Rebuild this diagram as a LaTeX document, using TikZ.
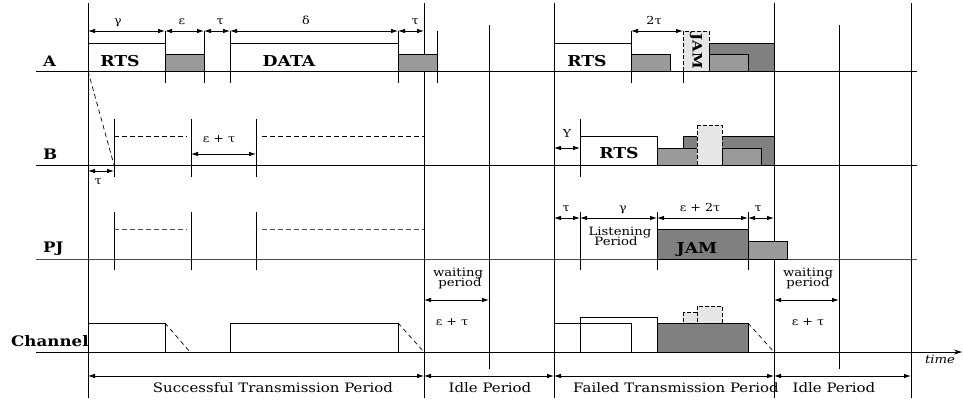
\documentclass[tikz,border=0pt]{standalone}
\usepackage{fontspec}
\setmainfont{DejaVu Serif}[FakeStretch=1.15]
\usetikzlibrary{arrows.meta}
\definecolor{midgray}{HTML}{9A9A9A}
\definecolor{darkgray2}{HTML}{808080}
\definecolor{lightgray2}{HTML}{E6E6E6}
\begin{document}
\begin{tikzpicture}[x=1pt,y=-1pt,
  ln/.style={line width=0.8pt},
  dim/.style={line width=0.8pt,{Latex[length=7pt,width=4.5pt]}-{Latex[length=7pt,width=4.5pt]}},
  dsh/.style={line width=0.7pt,dash pattern=on 4.5pt off 3.5pt},
  midbox/.style={draw,line width=0.8pt,fill=midgray},
  darkbox/.style={draw,line width=0.8pt,fill=darkgray2},
  lightbox/.style={draw,line width=0.8pt,fill=lightgray2,dash pattern=on 4pt off 2pt},
  wbox/.style={draw,line width=0.8pt},
  rowlab/.style={font=\fontsize{14.5}{14.5}\selectfont\bfseries,anchor=base west,inner sep=0pt},
  boxlab/.style={font=\fontsize{15}{15}\selectfont\bfseries,anchor=base,inner sep=0pt},
  glab/.style={font=\fontsize{11}{11}\selectfont,anchor=base,inner sep=0pt},
  wlab/.style={font=\fontsize{11.5}{11.5}\selectfont,anchor=base,inner sep=0pt},
  plab/.style={font=\fontsize{13}{13}\selectfont,anchor=base,inner sep=0pt},
]
\useasboundingbox (0,0) rectangle (963,402);

% baselines
\draw[ln] (36,71) -- (917,71);
\draw[ln] (36,165) -- (917,165);
\draw[ln,black!70] (36,259) -- (917,259);
\draw[ln,-{Stealth[length=8pt,width=5pt]}] (36,352) -- (962,352);

% full verticals
\foreach \x in {88,424,554,774,911} \draw[ln] (\x,3) -- (\x,398);
\foreach \x in {489,839} \draw[ln] (\x,25) -- (\x,369);
% A ticks
\foreach \x in {165,204,230,398,437,631,683} \draw[ln] (\x,31) -- (\x,83);
% B ticks
\foreach \x in {114,191,256,580} \draw[ln] (\x,119) -- (\x,177);
% PJ ticks
\foreach \x in {114,191,256,580,657,748} \draw[ln] (\x,212) -- (\x,270);

% ---- A row ----
\draw[wbox] (88,43) rectangle (165,71);
\draw[midbox] (165,54) rectangle (204,71);
\draw[wbox] (230,43) rectangle (398,71);
\draw[midbox] (398,54) rectangle (437,71);
\draw[wbox] (554,43) rectangle (631,71);
\draw[midbox] (631,54) rectangle (670,71);
\draw[lightbox] (683,31) rectangle (709,71);
\draw[darkbox] (709,43) rectangle (774,71);
\draw[midbox] (709,54) rectangle (748,71);

\node[rowlab] (lA) at (43,66) {A};
\node[boxlab] (rts1) at (120,66) {RTS};
\node[boxlab] (data) at (289,66) {DATA};
\node[boxlab] (rts2) at (587,66) {RTS};
\node[font=\fontsize{13}{13}\selectfont\bfseries,rotate=-90,inner sep=0pt] (jamA) at (696,51) {JAM};

\draw[dim] (88,31) -- (165,31);
\draw[dim] (165,31) -- (204,31);
\draw[dim] (204,31) -- (230,31);
\draw[dim] (230,31) -- (398,31);
\draw[dim] (398,31) -- (424,31);
\draw[dim] (631,31) -- (683,31);
\node[glab] (g1) at (118,24) {γ};
\node[glab] (e1) at (182,24) {ε};
\node[glab] (t1) at (220,24) {τ};
\node[glab] (d1) at (306,24) {δ};
\node[glab] (t2) at (415,24) {τ};
\node[glab] (tt) at (654,24) {2τ};

% ---- B row ----
\draw[dsh] (88,71) -- (114,165);
\draw[dsh] (114,136) -- (187,136);
\draw[dsh] (262,136) -- (424,136);
\draw[wbox] (580,136) rectangle (657,165);
\draw[darkbox] (683,136) rectangle (774,165);
\draw[midbox] (657,148) rectangle (697,165);
\draw[lightbox] (697,125) rectangle (722,165);
\draw[midbox] (722,148) rectangle (761,165);

\node[rowlab] (lB) at (43,159) {B};
\node[boxlab] (rts3) at (619,158) {RTS};

\draw[dim] (191,154) -- (256,154);
\node[glab] (et1) at (219,142) {ε + τ};
\draw[dim] (88,171) -- (114,171);
\node[glab] (t3) at (98,184) {τ};
\draw[dim] (554,148) -- (580,148);
\node[glab] (Y) at (567,137) {Y};

% ---- PJ row ----
\draw[dsh,black!70] (114,229) -- (187,229);
\draw[dsh,black!70] (262,229) -- (424,229);
\draw[darkbox] (657,229) rectangle (748,259);
\draw[midbox] (748,241) rectangle (787,259);
\node[rowlab] (lPJ) at (43,252) {PJ};
\node[boxlab] (jamPJ) at (697,253) {JAM};

\draw[dim] (554,218) -- (580,218);
\draw[dim] (580,218) -- (657,218);
\draw[dim] (657,218) -- (748,218);
\draw[dim] (748,218) -- (774,218);
\node[glab] (t4) at (566,211) {τ};
\node[glab] (g2) at (623,211) {γ};
\node[glab] (e2t) at (700,211) {ε + 2τ};
\node[glab] (t5) at (758,211) {τ};
\node[wlab] (listen) at (620,235) {Listening};
\node[wlab] (period) at (616,245) {Period};

% ---- Channel row ----
\draw[wbox] (88,323) rectangle (165,352);
\draw[dsh] (165,323) -- (190,352);
\draw[wbox] (230,323) rectangle (398,352);
\draw[dsh] (398,323) -- (424,352);
\draw[wbox] (580,317) rectangle (657,352);
\draw[wbox] (554,323) rectangle (631,352);
\draw[darkbox] (657,323) rectangle (748,352);
\draw[lightbox] (683,312) rectangle (697,323);
\draw[lightbox] (697,306) rectangle (722,323);
\draw[dsh] (748,323) -- (774,352);
\node[rowlab] (lCh) at (11,346) {Channel};

\node[wlab] (wait1) at (458,276) {waiting};
\node[wlab] (per1) at (460,286) {period};
\draw[dim] (424,300) -- (489,300);
\node[glab] (et2) at (452,325) {ε + τ};
\node[wlab] (wait2) at (808,276) {waiting};
\node[wlab] (per2) at (808,286) {period};
\draw[dim] (774,300) -- (839,300);
\node[glab] (et3) at (808,325) {ε + τ};
\node[wlab,font=\fontsize{11.5}{11.5}\selectfont\itshape] (time) at (940,363) {time};

% ---- bottom periods ----
\draw[dim] (88,376) -- (424,376);
\draw[dim] (424,376) -- (554,376);
\draw[dim] (554,376) -- (774,376);
\draw[dim] (774,376) -- (911,376);
\node[plab] (stp) at (273,392) {Successful Transmission Period};
\node[plab] (ip1) at (490,392) {Idle Period};
\node[plab] (ftp) at (676,392) {Failed Transmission Period};
\node[plab] (ip2) at (834,392) {Idle Period};
\end{tikzpicture}
\end{document}
